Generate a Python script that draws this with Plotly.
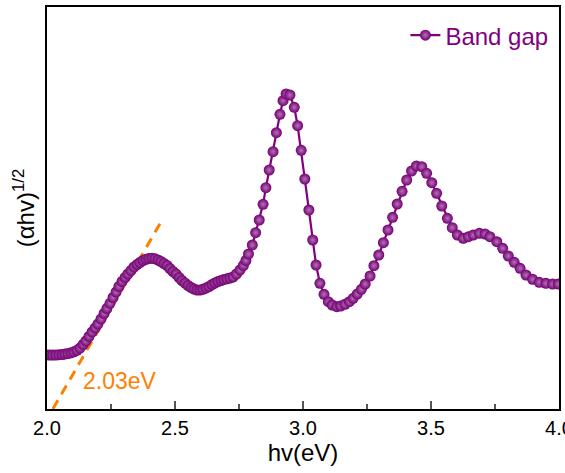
import plotly.graph_objects as go

# photon energy (eV)
hv = [
    2.000, 2.012, 2.023, 2.035, 2.047, 2.059, 2.070, 2.082, 2.094, 2.105,
    2.117, 2.129, 2.141, 2.152, 2.164, 2.176, 2.188, 2.199, 2.211, 2.223,
    2.234, 2.246, 2.258, 2.270, 2.281, 2.293, 2.305, 2.316, 2.328, 2.340,
    2.352, 2.363, 2.375, 2.387, 2.398, 2.410, 2.422, 2.434, 2.445, 2.457,
    2.469, 2.480, 2.492, 2.504, 2.516, 2.527, 2.539, 2.551, 2.563, 2.574,
    2.586, 2.598, 2.609, 2.621, 2.633, 2.645, 2.656, 2.668, 2.680, 2.691,
    2.703, 2.715, 2.727, 2.740, 2.754, 2.767, 2.777, 2.787, 2.802, 2.815,
    2.829, 2.844, 2.855, 2.868, 2.883, 2.896, 2.910, 2.922, 2.934, 2.949,
    2.966, 2.979, 2.993, 3.007, 3.023, 3.038, 3.051, 3.066, 3.082, 3.099,
    3.114, 3.132, 3.147, 3.164, 3.181, 3.196, 3.212, 3.228, 3.243, 3.262,
    3.277, 3.296, 3.314, 3.332, 3.350, 3.368, 3.387, 3.405, 3.424, 3.443,
    3.464, 3.483, 3.503, 3.522, 3.542, 3.564, 3.583, 3.603, 3.626, 3.646,
    3.665, 3.689, 3.711, 3.730, 3.757, 3.780, 3.802, 3.825, 3.848, 3.871,
    3.897, 3.923, 3.949, 3.975, 3.997,
]

# (alpha*hv)^(1/2), arbitrary units
ahv = [
    0.540, 0.540, 0.540, 0.540, 0.543, 0.545, 0.550, 0.555, 0.562, 0.572,
    0.587, 0.610, 0.645, 0.680, 0.725, 0.770, 0.810, 0.850, 0.900, 0.955,
    1.005, 1.057, 1.115, 1.170, 1.225, 1.275, 1.315, 1.350, 1.385, 1.420,
    1.445, 1.465, 1.485, 1.497, 1.504, 1.507, 1.502, 1.490, 1.475, 1.455,
    1.435, 1.405, 1.375, 1.350, 1.315, 1.285, 1.260, 1.235, 1.215, 1.200,
    1.190, 1.190, 1.197, 1.210, 1.225, 1.245, 1.260, 1.275, 1.285, 1.295,
    1.302, 1.310, 1.320, 1.350, 1.390, 1.435, 1.485, 1.550, 1.640, 1.763,
    1.890, 2.047, 2.213, 2.390, 2.573, 2.763, 2.947, 3.083, 3.150, 3.140,
    3.017, 2.833, 2.587, 2.300, 1.990, 1.690, 1.440, 1.257, 1.147, 1.073,
    1.040, 1.023, 1.030, 1.047, 1.073, 1.107, 1.150, 1.197, 1.250, 1.330,
    1.433, 1.540, 1.663, 1.790, 1.917, 2.050, 2.177, 2.290, 2.380, 2.430,
    2.423, 2.357, 2.263, 2.157, 2.030, 1.907, 1.813, 1.740, 1.707, 1.723,
    1.740, 1.757, 1.750, 1.723, 1.673, 1.607, 1.530, 1.467, 1.407, 1.340,
    1.297, 1.267, 1.257, 1.250, 1.250,
]

# Tauc linear fit (extrapolation line)
fit_x = [2.023, 2.445]
fit_y = [0.0, 1.87]

gap_label = "2.03eV"
gap_label_x = 2.287
gap_label_y = 0.28

x_ticks = [2.0, 2.5, 3.0, 3.5, 4.0]
x_tick_text = ["2.0", "2.5", "3.0", "3.5", "4.0"]

PURPLE = "#800080"
ORANGE = "#ff8000"
FONT = "Liberation Sans, Arial, sans-serif"

fig = go.Figure()

fig.add_trace(go.Scatter(
    x=fit_x, y=fit_y, mode="lines",
    line=dict(color=ORANGE, width=3, dash="10px,7px"),
    showlegend=False, hoverinfo="skip",
))

fig.add_trace(go.Scatter(
    x=hv, y=ahv, mode="lines+markers", name="Band gap",
    line=dict(color=PURPLE, width=2.2),
    marker=dict(size=11, color="#740074", line=dict(width=0),
                gradient=dict(type="radial", color="#b474b4")),
))

fig.add_annotation(
    x=gap_label_x, y=gap_label_y, text=gap_label, showarrow=False,
    font=dict(family=FONT, size=23, color=ORANGE),
)

fig.update_layout(
    width=565, height=473,
    margin=dict(l=47, r=6, t=7, b=64, autoexpand=False),
    paper_bgcolor="white", plot_bgcolor="white",
    font=dict(family=FONT, color="black"),
    showlegend=True,
    legend=dict(
        x=0.70, y=0.985, xanchor="left", yanchor="top",
        bgcolor="rgba(0,0,0,0)",
        font=dict(family=FONT, size=24, color=PURPLE),
    ),
    xaxis=dict(
        range=[2.0, 4.0], automargin=False,
        tickvals=x_ticks, ticktext=x_tick_text,
        ticklabeloverflow="allow",
        ticks="inside", ticklen=8, tickwidth=1.5, tickcolor="#555",
        minor=dict(dtick=0.25, tick0=2.0, ticks="inside", ticklen=5,
                   tickwidth=1.5, tickcolor="#555"),
        showline=True, linecolor="black", linewidth=1.5, mirror=True,
        showgrid=False, zeroline=False,
        tickfont=dict(family=FONT, size=20, color="black"),
        title=dict(text="hv(eV)", font=dict(family=FONT, size=24, color="black"),
                   standoff=2),
    ),
    yaxis=dict(
        range=[0, 4.02], automargin=False,
        showticklabels=False, ticks="",
        showline=True, linecolor="black", linewidth=1.5, mirror=True,
        showgrid=False, zeroline=False,
        title=dict(text="(αhv)<sup>1/2</sup>",
                   font=dict(family=FONT, size=24, color="black"),
                   standoff=4),
    ),
)

fig.write_html("out.html", config={"displayModeBar": False},
               post_script="document.body.style.margin='0';")
